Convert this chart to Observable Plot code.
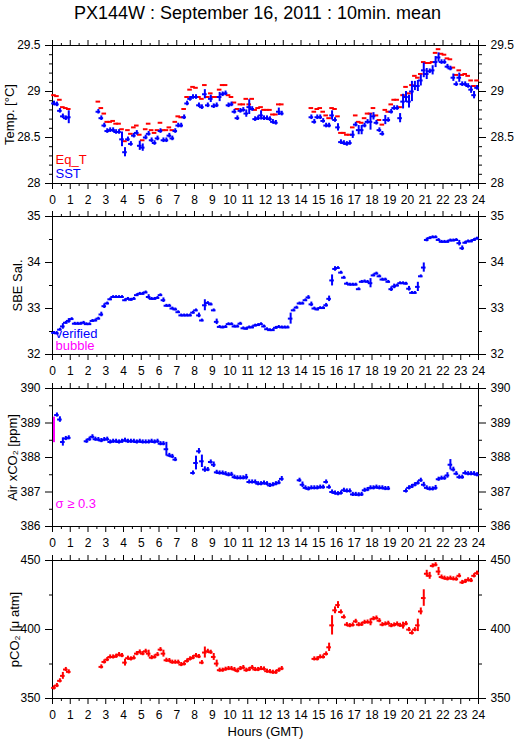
<!DOCTYPE html>
<html><head><meta charset="utf-8">
<script src="https://cdn.jsdelivr.net/npm/d3@7"></script>
<script src="https://cdn.jsdelivr.net/npm/@observablehq/plot@0.6"></script>
<style>
body{margin:0;background:#fff;}
#title{height:30px;width:515px;text-align:center;font:18px "Liberation Sans",Arial,sans-serif;line-height:27px;color:#000;}
svg{display:block}
</style></head><body>
<div id="title">PX144W : September 16, 2011 : 10min. mean</div>
<div id="charts"></div>
<script>
// 10-minute bin centres, minutes after 00:00 GMT
const minutes = [5,15,25,35,45,55,65,75,85,95,105,115,125,135,145,155,165,175,185,195,205,215,225,235,245,255,265,275,285,295,305,315,325,335,345,355,365,375,385,395,405,415,425,435,445,455,465,475,485,495,505,515,525,535,545,555,565,575,585,595,605,615,625,635,645,655,665,675,685,695,705,715,725,735,745,755,765,775,785,795,805,815,825,835,845,855,865,875,885,895,905,915,925,935,945,955,965,975,985,995,1005,1015,1025,1035,1045,1055,1065,1075,1085,1095,1105,1115,1125,1135,1145,1155,1165,1175,1185,1195,1205,1215,1225,1235,1245,1255,1265,1275,1285,1295,1305,1315,1325,1335,1345,1355,1365,1375,1385,1395,1405,1415,1425,1435];

const hourTicks = [0,1,2,3,4,5,6,7,8,9,10,11,12,13,14,15,16,17,18,19,20,21,22,23,24];
const halfHourTicks = [0.5,1.5,2.5,3.5,4.5,5.5,6.5,7.5,8.5,9.5,10.5,11.5,12.5,13.5,14.5,15.5,16.5,17.5,18.5,19.5,20.5,21.5,22.5,23.5];

const tempTicks = [28,28.5,29,29.5];
const tempMinor = [28.1,28.2,28.3,28.4,28.6,28.7,28.8,28.9,29.1,29.2,29.3,29.4];
const salTicks = [32,33,34,35];
const salMinor = [32.5,33.5,34.5];
const xco2Ticks = [386,387,388,389,390];
const xco2Minor = [386.5,387.5,388.5,389.5];
const pco2Ticks = [350,400,450];
const pco2Minor = [375,425];

const sst = [28.87,28.86,28.79,28.73,28.71,28.72,
null,null,null,null,null,null,null,null,null,
28.78,28.71,28.63,28.57,28.58,28.58,28.56,28.56,28.48,28.34,
28.48,28.43,28.52,28.55,28.41,28.39,28.5,28.54,28.47,28.44,
28.49,28.57,28.47,28.47,28.52,28.49,28.57,28.63,28.63,28.72,
28.87,28.92,28.94,28.94,28.85,28.83,28.97,28.85,28.92,28.84,
28.85,28.94,28.97,28.98,28.85,28.86,28.78,28.71,28.79,28.8,
28.76,28.83,28.81,28.7,28.71,
28.74,28.71,28.71,28.7,28.67,28.66,28.78,28.76,
null,null,null,null,null,null,null,null,null,
28.72,28.67,28.72,28.72,28.68,28.63,28.63,28.74,28.69,28.61,
28.45,28.44,28.43,28.44,28.53,28.64,28.58,28.58,28.63,28.67,
28.67,28.73,28.66,28.58,28.54,28.69,28.69,28.78,28.82,28.82,
28.71,28.89,28.94,28.89,29.0,29.06,29.06,29.12,29.23,29.19,
29.22,29.23,29.32,29.37,29.32,29.32,29.27,29.25,29.15,29.08,
29.15,29.08,29.08,29.06,29.02,28.96,29.04];
const sstErrDefault = 0.025;
const sstErrLarge = {5:0.07,23:0.08,24:0.05,29:0.05,30:0.04,51:0.05,53:0.04,56:0.05,65:0.04,66:0.08,70:0.05,76:0.04,94:0.05,96:0.04,101:0.04,103:0.05,104:0.05,107:0.09,108:0.04,112:0.05,117:0.05,118:0.08,119:0.06,120:0.07,121:0.11,122:0.05,123:0.06,124:0.06,125:0.08,126:0.06,128:0.05,129:0.06,130:0.05,135:0.04,137:0.05,141:0.04,142:0.04};

const eqT = [28.96,28.95,28.91,28.83,28.82,28.81,
null,null,null,null,null,null,null,null,null,
28.89,28.82,28.76,28.67,28.67,28.68,28.65,28.65,28.59,28.46,
28.58,28.54,28.61,28.63,28.53,28.47,28.59,28.65,28.58,28.55,
28.58,28.66,28.58,28.58,28.61,28.58,28.67,28.73,28.72,28.81,
28.94,29.02,29.05,29.04,28.94,28.92,29.07,28.94,28.98,28.94,
28.94,29.02,29.07,29.07,28.96,28.94,28.88,28.81,28.86,28.86,
28.92,28.86,28.92,28.8,28.82,
28.83,28.8,28.8,28.8,28.75,28.75,28.86,28.86,
null,null,null,null,null,null,null,null,null,
28.82,28.78,28.81,28.82,28.78,28.74,28.71,28.82,28.81,28.73,
28.55,28.55,28.53,28.53,28.61,28.74,28.67,28.66,28.71,28.76,
28.76,28.82,28.74,28.69,28.64,28.8,28.78,28.86,28.91,28.91,
28.83,28.96,29.05,28.98,29.07,29.17,29.15,29.19,29.32,29.31,
29.31,29.32,29.42,29.46,29.41,29.4,29.36,29.35,29.26,29.18,
29.23,29.18,29.19,29.17,29.12,29.06,29.12];

const sal = [32.47,32.46,32.54,32.61,32.69,32.73,32.77,32.67,32.67,32.67,
32.69,32.66,32.66,32.73,32.74,32.78,32.87,33.05,33.11,33.2,
33.25,33.25,33.25,33.25,33.18,33.21,33.19,33.21,33.29,33.32,
33.32,33.35,33.25,33.21,33.21,33.23,33.29,33.18,33.06,33.06,
33.0,32.98,32.92,32.85,32.85,32.85,32.85,32.91,32.96,32.85,
32.74,33.07,33.12,33.09,32.96,32.71,32.6,32.59,32.6,32.66,
32.66,32.61,32.61,32.67,32.57,32.56,32.59,32.59,
32.63,32.64,
32.66,32.61,32.55,32.53,32.53,32.58,32.6,32.59,32.59,32.59,
32.78,32.96,33.02,33.11,33.11,33.18,33.24,33.09,33.0,32.98,
33.01,33.01,33.07,33.21,33.61,33.86,33.88,33.78,33.67,33.54,
33.52,33.52,33.52,33.42,33.58,33.59,33.58,33.55,33.72,33.76,
33.7,33.63,33.63,33.58,33.42,33.48,33.5,33.55,33.55,33.54,
33.43,33.34,33.34,33.47,33.7,33.89,34.49,34.53,34.55,34.55,
34.49,34.45,34.45,34.45,34.48,34.48,34.49,34.42,34.31,34.43,
34.46,34.46,34.49,34.52];
const salErrDefault = 0.03;
const salErrLarge = {3:0.06,5:0.05,16:0.05,17:0.05,32:0.05,37:0.05,49:0.05,51:0.12,55:0.06,80:0.12,86:0.04,87:0.05,92:0.04,93:0.06,94:0.12,95:0.05,107:0.1,114:0.05,115:0.05,120:0.05,123:0.1,125:0.1,126:0.04,137:0.06,138:0.05};

const xco2 = [388.8,
389.23,389.1,388.45,388.55,388.57,
null,null,null,null,null,
388.47,388.53,388.6,388.53,388.52,388.49,388.52,388.53,388.45,388.47,
388.47,388.45,388.47,388.5,388.47,388.47,388.47,388.45,388.47,388.45,
388.45,388.45,388.47,388.45,388.47,388.4,388.4,388.24,388.06,388.03,387.94,
null,null,null,null,null,
387.55,387.84,388.18,387.89,387.65,387.65,387.87,387.79,387.57,387.55,
387.55,387.53,387.5,387.51,387.43,387.41,387.41,387.41,387.43,387.29,
387.29,387.29,387.24,
387.24,387.26,387.24,387.19,387.21,387.24,387.27,387.38,
null,null,null,null,null,
387.34,387.21,387.12,387.09,387.12,387.12,387.12,387.14,387.14,387.29,
387.14,387.0,386.97,386.95,386.97,387.05,387.03,387.03,386.93,386.93,
386.92,386.93,387.05,387.07,387.12,387.12,387.14,387.12,387.12,387.1,387.1,
null,null,null,null,null,
387.03,387.12,387.16,387.21,387.26,387.34,387.21,387.12,387.09,387.09,
387.12,387.37,387.4,387.4,387.48,387.79,387.65,387.53,387.43,387.43,
387.55,387.53,387.53,387.53,387.5];
const xco2ErrDefault = 0.06;
const xco2ErrLarge = {0:0.37,2:0.08,3:0.12,38:0.2,48:0.2,49:0.08,50:0.18,51:0.08,54:0.08,65:0.08,77:0.07,84:0.08,125:0.07,129:0.07,133:0.08,134:0.15,135:0.07};
const xco2Bubble = [0]; // slots flagged sigma >= 0.3

const pco2 = [357.7,359.4,362.8,366.4,371.0,369.3,
null,null,null,null,null,null,null,null,null,null,
372.9,376.5,378.2,380.1,380.1,380.6,381.8,381.1,376.0,379.2,
378.7,379.4,382.5,383.7,382.5,384.2,382.5,379.6,380.1,381.8,
385.4,382.5,377.7,377.5,376.3,376.3,376.3,374.6,375.1,377.2,
378.7,379.6,381.1,380.4,376.0,383.3,384.2,383.5,380.1,375.3,
370.5,370.5,371.2,371.7,371.7,371.0,370.0,371.7,372.4,370.5,371.0,372.4,
371.0,371.0,371.7,371.4,369.8,369.5,369.0,369.0,370.5,371.7,
null,null,null,null,null,null,null,null,null,null,
378.7,378.7,380.1,380.1,382.3,387.1,403.0,413.9,417.7,412.7,
409.0,403.5,402.8,403.3,405.9,403.5,403.7,405.2,405.4,405.2,
407.8,408.3,406.4,403.5,404.0,404.5,402.8,403.3,404.0,403.0,
402.8,404.2,399.9,397.5,399.9,403.0,413.1,422.8,440.4,438.9,
446.1,446.9,442.0,438.0,437.2,436.7,437.2,436.7,436.5,438.9,
434.1,434.8,436.0,435.5,438.9,440.8];
const pco2ErrDefault = 1.5;
const pco2ErrLarge = {3:2.5,24:2.5,32:2.5,37:2.5,51:4,54:2.5,55:2.5,93:3,94:7,95:2.5,96:2.5,107:2.5,118:2.5,123:4.5,124:2.5,125:6,126:2.5,127:2.5,130:3};

const BLUE = "#0000ff", RED = "#ff0000", MAGENTA = "#ff00ff";
const FONT = '"Liberation Sans", Arial, Helvetica, sans-serif';
const HALF = 0.13; // half width of a 10-minute marker, hours
const fmt = d => String(d);

function rows(vals, errDefault, errLarge) {
  if (vals.length !== minutes.length) throw new Error("length " + vals.length);
  return minutes.map((m, i) => ({h: m / 60, v: vals[i], e: errLarge && errLarge[i] != null ? errLarge[i] : errDefault, i}))
    .filter(d => d.v != null);
}

function panel({height, mt, mb, yDomain, yMajor, yMinor, label, labelDx, marks}) {
  return Plot.plot({
    width: 515, height, marginLeft: 52, marginRight: 37, marginTop: mt, marginBottom: mb,
    style: {fontFamily: FONT, fontSize: "12px", background: "white", color: "black", overflow: "visible"},
    x: {domain: [0, 24]},
    y: {domain: yDomain},
    marks: [
      Plot.axisX({anchor: "bottom", ticks: hourTicks, tickSize: 6, tickPadding: 6, tickFormat: fmt, label: null, fontSize: 12}),
      Plot.axisX({anchor: "bottom", ticks: halfHourTicks, tickSize: 3, tickFormat: () => "", label: null}),
      Plot.axisX({anchor: "top", ticks: hourTicks, tickSize: 6, tickFormat: () => "", label: null}),
      Plot.axisX({anchor: "top", ticks: halfHourTicks, tickSize: 3, tickFormat: () => "", label: null}),
      Plot.axisY({anchor: "left", ticks: yMajor, tickSize: 7, tickPadding: 5, tickFormat: fmt, label: null, fontSize: 12}),
      Plot.axisY({anchor: "left", ticks: yMinor, tickSize: 3, tickFormat: () => "", label: null}),
      Plot.axisY({anchor: "right", ticks: yMajor, tickSize: 7, tickPadding: 5, tickFormat: fmt, label: null, fontSize: 12}),
      Plot.axisY({anchor: "right", ticks: yMinor, tickSize: 3, tickFormat: () => "", label: null}),
      Plot.frame({stroke: "black"}),
      Plot.text([label], {text: d => d, frameAnchor: "left", rotate: -90, dx: labelDx, lineAnchor: "middle", textAnchor: "middle", fontSize: 13, fill: "black"}),
      ...marks
    ]
  });
}

function legend(txt, color, dy) {
  return Plot.text([txt], {text: d => d, frameAnchor: "bottom-left", textAnchor: "start", lineAnchor: "middle", dx: 3, dy, fill: color, fontSize: 13});
}

function crosses(data, color) {
  return [
    Plot.ruleX(data, {x: "h", y1: d => d.v - d.e, y2: d => d.v + d.e, stroke: color, strokeWidth: 2}),
    Plot.ruleY(data, {x1: d => d.h - HALF, x2: d => d.h + HALF, y: "v", stroke: color, strokeWidth: 2})
  ];
}

const charts = document.getElementById("charts");
try {
  const sstRows = rows(sst, sstErrDefault, sstErrLarge);
  const eqRows = rows(eqT, 0, null);
  const salRows = rows(sal, salErrDefault, salErrLarge);
  const xRowsAll = rows(xco2, xco2ErrDefault, xco2ErrLarge);
  const xRows = xRowsAll.filter(d => !xco2Bubble.includes(d.i));
  const xBub = xRowsAll.filter(d => xco2Bubble.includes(d.i));
  const pRows = rows(pco2, pco2ErrDefault, pco2ErrLarge);

  charts.append(panel({height: 177, mt: 15, mb: 24, yDomain: [28, 29.5], yMajor: tempTicks, yMinor: tempMinor,
    label: "Temp. [°C]", labelDx: -43,
    marks: [
      Plot.ruleY(eqRows, {x1: d => d.h - HALF, x2: d => d.h + HALF, y: "v", stroke: RED, strokeWidth: 2}),
      ...crosses(sstRows, BLUE),
      legend("Eq_T", RED, -24),
      legend("SST", BLUE, -10)
    ]}));

  charts.append(panel({height: 172, mt: 9, mb: 25, yDomain: [32, 35], yMajor: salTicks, yMinor: salMinor,
    label: "SBE Sal.", labelDx: -35,
    marks: [
      ...crosses(salRows, BLUE),
      legend("verified", BLUE, -21),
      legend("bubble", MAGENTA, -9)
    ]}));

  charts.append(panel({height: 172, mt: 9, mb: 25, yDomain: [386, 390], yMajor: xco2Ticks, yMinor: xco2Minor,
    label: "Air xCO₂ [ppm]", labelDx: -40,
    marks: [
      ...crosses(xRows, BLUE),
      Plot.ruleX(xBub, {x: "h", y1: d => d.v - d.e, y2: d => d.v + d.e, stroke: MAGENTA, strokeWidth: 2}),
      legend("σ ≥ 0.3", MAGENTA, -23)
    ]}));

  charts.append(panel({height: 188, mt: 9, mb: 41, yDomain: [350, 450], yMajor: pco2Ticks, yMinor: pco2Minor,
    label: "pCO₂ [μ atm]", labelDx: -38,
    marks: [
      ...crosses(pRows, RED),
      Plot.text(["Hours (GMT)"], {text: d => d, frameAnchor: "bottom", dy: 33, lineAnchor: "middle", fontSize: 13, fill: "black"})
    ]}));
} catch (e) {
  charts.textContent = "ERROR: " + e.message;
}
</script></body></html>
